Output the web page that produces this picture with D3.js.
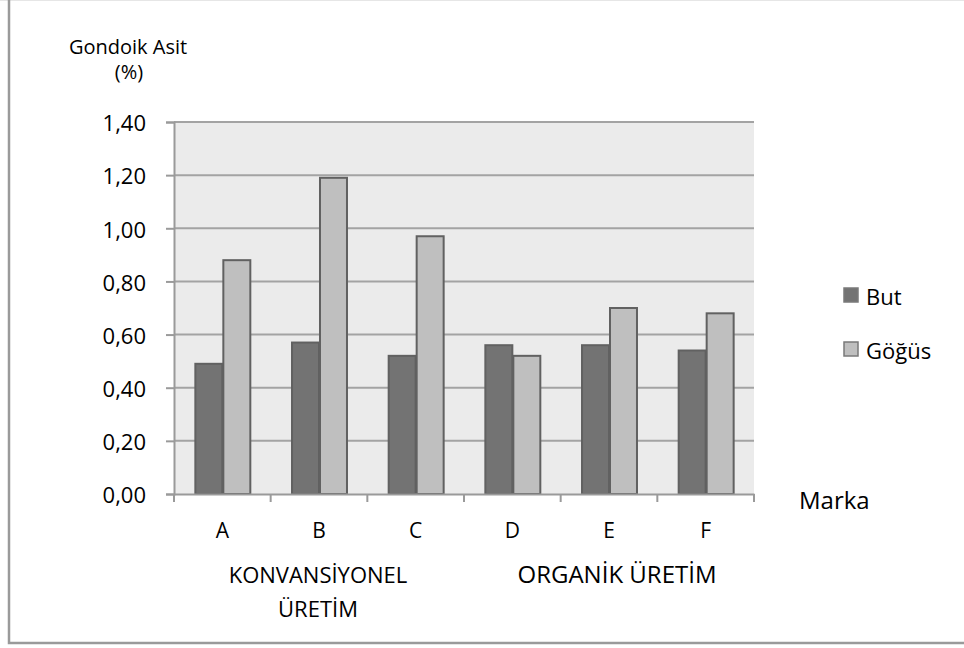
<!DOCTYPE html>
<html>
<head>
<meta charset="utf-8">
<script src="https://cdn.jsdelivr.net/npm/d3@7"></script>
<style>
  html, body { margin: 0; padding: 0; background: #fff; }
  svg { display: block; font-family: "Open Sans", "DejaVu Sans", sans-serif; }
</style>
</head>
<body>
<svg id="chart" width="964" height="648"></svg>
<script>
// Brands and their gondoic acid content (%) in thigh and breast meat
const categories = ["A", "B", "C", "D", "E", "F"];
const seriesNames = ["But", "Göğüs"];
const butValues = [0.49, 0.57, 0.52, 0.56, 0.56, 0.54];
const gogusValues = [0.88, 1.19, 0.97, 0.52, 0.70, 0.68];
const yTicks = [0, 0.2, 0.4, 0.6, 0.8, 1.0, 1.2, 1.4];
const groupLabels = [
  { lines: ["KONVANSİYONEL", "ÜRETİM"], x: 318, size: 22 },
  { lines: ["ORGANİK ÜRETİM"], x: 617, size: 24 }
];

const colors = { "But": "#737373", "Göğüs": "#bfbfbf" };
const rows = categories.map((c, i) => ({ cat: c, values: [butValues[i], gogusValues[i]] }));

const svg = d3.select("#chart");
const plot = { left: 174, right: 754, top: 122, bottom: 494 };

// outer frame
svg.append("line").attr("x1", 0).attr("x2", 964).attr("y1", 0.5).attr("y2", 0.5)
  .attr("stroke", "#e6e6e6").attr("stroke-width", 1);
svg.append("path")
  .attr("d", "M9,0 V643 H964")
  .attr("fill", "none").attr("stroke", "#9a9a9a").attr("stroke-width", 2.5);

const x = d3.scaleBand().domain(categories).range([plot.left, plot.right]).padding(0);
const xSub = d3.scaleBand().domain(seriesNames).range([0, x.bandwidth()])
  .paddingInner(0).paddingOuter(0.727);
const y = d3.scaleLinear().domain([0, 1.4]).range([plot.bottom, plot.top]);

const locale = d3.formatLocale({ decimal: ",", thousands: ".", grouping: [3], currency: ["", ""] });
const fmt = locale.format(".2f");

// plot background
svg.append("rect")
  .attr("x", plot.left).attr("y", plot.top)
  .attr("width", plot.right - plot.left).attr("height", plot.bottom - plot.top)
  .attr("fill", "#ebebeb");

// horizontal gridlines
svg.append("g").selectAll("line").data(yTicks.filter(d => d > 0)).join("line")
  .attr("x1", plot.left).attr("x2", plot.right)
  .attr("y1", d => y(d)).attr("y2", d => y(d))
  .attr("stroke", "#a3a3a3").attr("stroke-width", 2);

// y axis
const yAxis = svg.append("g").attr("transform", `translate(${plot.left},0)`)
  .call(d3.axisLeft(y).tickValues(yTicks).tickSize(8).tickPadding(20).tickFormat(fmt));
yAxis.select(".domain").attr("stroke", "#9a9a9a").attr("stroke-width", 2);
yAxis.selectAll(".tick line").attr("stroke", "#9a9a9a").attr("stroke-width", 2);
yAxis.selectAll(".tick text").attr("font-size", 22).attr("fill", "#000")
  .attr("font-family", "Open Sans").attr("dy", "0.4em");

// bars
const groups = svg.append("g").selectAll("g").data(rows).join("g")
  .attr("transform", d => `translate(${x(d.cat)},0)`);
groups.selectAll("rect").data(d => d.values.map((v, i) => ({ key: seriesNames[i], v })))
  .join("rect")
  .attr("x", d => xSub(d.key) + 1)
  .attr("width", xSub.bandwidth() - 1)
  .attr("y", d => y(d.v))
  .attr("height", d => y(0) - y(d.v))
  .attr("fill", d => colors[d.key])
  .attr("stroke", "#616161").attr("stroke-width", 2);

// x axis: line, boundary ticks, category labels
const xAxis = svg.append("g").attr("transform", `translate(0,${plot.bottom})`)
  .call(d3.axisBottom(x).tickSize(0).tickPadding(29));
xAxis.select(".domain").attr("stroke", "#9a9a9a").attr("stroke-width", 2);
xAxis.selectAll(".tick text").attr("font-size", 21).attr("fill", "#000")
  .attr("font-family", "Open Sans");
const bounds = categories.map(c => x(c)).concat([x(categories[categories.length - 1]) + x.bandwidth()]);
xAxis.selectAll("line.bound").data(bounds).join("line").attr("class", "bound")
  .attr("x1", d => d).attr("x2", d => d).attr("y1", 0).attr("y2", 8)
  .attr("stroke", "#9a9a9a").attr("stroke-width", 2);

// production group labels
groupLabels.forEach(g => {
  const t = svg.append("text").attr("text-anchor", "middle").attr("font-size", g.size).attr("fill", "#000");
  g.lines.forEach((ln, i) => {
    t.append("tspan").attr("x", g.x).attr("y", 583 + i * 34).text(ln);
  });
});

// axis titles
svg.append("text").attr("x", 128).attr("y", 54).attr("text-anchor", "middle")
  .attr("font-size", 20).attr("fill", "#000").text("Gondoik Asit");
svg.append("text").attr("x", 129).attr("y", 79).attr("text-anchor", "middle")
  .attr("font-size", 20).attr("fill", "#000").text("(%)");
svg.append("text").attr("x", 799).attr("y", 509)
  .attr("font-size", 24).attr("fill", "#000").text("Marka");

// legend
const legend = svg.append("g").attr("transform", "translate(844,288)");
seriesNames.forEach((s, i) => {
  const g = legend.append("g").attr("transform", `translate(0,${i * 54})`);
  g.append("rect").attr("width", 14).attr("height", 14)
    .attr("fill", colors[s]).attr("stroke", "#7a7a7a").attr("stroke-width", 1.5);
  g.append("text").attr("x", 22).attr("y", 17).attr("font-size", 22).attr("fill", "#000").text(s);
});
</script>
</body>
</html>
